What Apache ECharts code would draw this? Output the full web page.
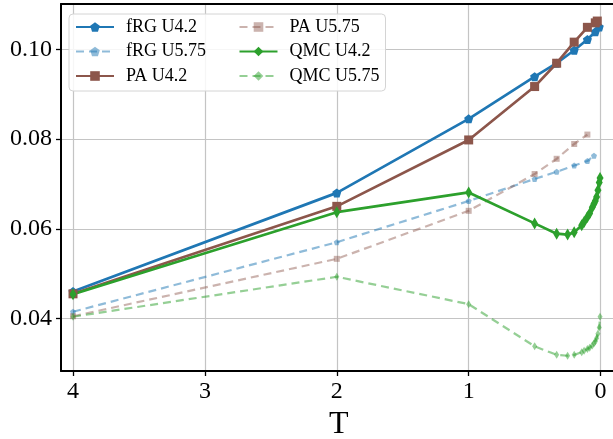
<!DOCTYPE html>
<html><head><meta charset="utf-8">
<script src="https://cdn.jsdelivr.net/npm/echarts@6/dist/echarts.min.js"></script>
<style>html,body{margin:0;padding:0;background:#fff;overflow:hidden}#c{width:613px;height:439px}</style>
</head><body><div id="c"></div>
<script>
// ---- data ----
const xTicks = [0, 1, 2, 3, 4];
const yTicks = [0.04, 0.06, 0.08, 0.10];
const seriesNames = ['fRG U4.2', 'fRG U5.75', 'PA U4.2', 'PA U5.75', 'QMC U4.2', 'QMC U5.75'];

const tFRG42 = [4, 2, 1, 0.5, 0.333, 0.2, 0.1, 0.04, 0.01];
const vFRG42 = [0.0460, 0.0680, 0.0845, 0.0939, 0.0969, 0.0998, 0.1022, 0.1039, 0.1050];

const tFRG575 = [4, 2, 1, 0.5, 0.333, 0.2, 0.1, 0.05];
const vFRG575 = [0.0415, 0.0570, 0.0662, 0.0711, 0.0727, 0.0741, 0.0751, 0.0763];

const tPA42 = [4, 2, 1, 0.5, 0.333, 0.2, 0.1, 0.04, 0.025];
const vPA42 = [0.0455, 0.0650, 0.0798, 0.0917, 0.0969, 0.1016, 0.1049, 0.1059, 0.1063];

const tPA575 = [4, 2, 1, 0.5, 0.333, 0.2, 0.1];
const vPA575 = [0.0405, 0.0533, 0.0640, 0.0722, 0.0756, 0.0789, 0.0810];

const tQMC = [4, 2, 1, 0.5, 0.333, 0.25, 0.2, 0.143, 0.125, 0.1, 0.083, 0.0625, 0.05, 0.04, 0.03, 0.02, 0.01, 0.004];
const vQMC42 = [0.0454, 0.0637, 0.0681, 0.0612, 0.0589, 0.0587, 0.0592, 0.0608, 0.0615, 0.0626, 0.0634, 0.0648, 0.0656, 0.0662, 0.0671, 0.0686, 0.0703, 0.0713];
const vQMC575 = [0.0404, 0.0493, 0.0432, 0.0338, 0.0319, 0.0317, 0.0319, 0.0325, 0.0328, 0.0332, 0.0335, 0.0340, 0.0345, 0.0349, 0.0356, 0.0366, 0.0380, 0.0404];

// ---- styles ----
const pentagon = 'path://M0,-1L0.951,-0.309L0.588,0.809L-0.588,0.809L-0.951,-0.309Z';
const square = 'rect';
const diamond = 'path://M0,-1L0.6,0L0,1L-0.6,0Z';
const FONT = 'Liberation Serif';

function pairs(t, v) { return t.map((x, i) => [x, v[i]]); }
function mk(name, t, v, color, dashed, symbol, size) {
  return {
    name: name, type: 'line', data: pairs(t, v), xAxisIndex: 0,
    symbol: symbol, symbolSize: size, showSymbol: true,
    lineStyle: { color: color, width: dashed ? 2.2 : 2.7, type: dashed ? [8, 5] : 'solid' },
    itemStyle: { color: color },
    emphasis: { disabled: true },
    animation: false
  };
}

const chart = echarts.init(document.getElementById('c'), null, { renderer: 'canvas' });
chart.setOption({
  backgroundColor: '#fff',
  animation: false,
  grid: { left: 61, top: 4, width: 555.4, height: 367, containLabel: false, outerBoundsMode: 'none' },
  xAxis: [{
    type: 'value', inverse: true, min: -0.12, max: 4.091,
    name: 'T', nameLocation: 'middle', nameGap: 28,
    nameTextStyle: { fontFamily: FONT, fontSize: 32, color: '#000' },
    axisLine: { show: true, onZero: false, lineStyle: { color: '#000', width: 2 } },
    axisTick: { show: true, customValues: xTicks, length: 5, inside: false, lineStyle: { color: '#000', width: 1.3 } },
    axisLabel: { customValues: xTicks, fontFamily: FONT, fontSize: 24, color: '#000', margin: 9, formatter: v => String(Math.round(v)) },
    splitLine: { show: true, lineStyle: { color: '#c4c4c4', width: 1.2 } }
  }, {
    type: 'value', position: 'top', inverse: true, min: -0.12, max: 4.091,
    axisLine: { show: true, onZero: false, lineStyle: { color: '#000', width: 2 } },
    axisTick: { show: false }, axisLabel: { show: false }, splitLine: { show: false }
  }],
  yAxis: {
    type: 'value', min: 0.0283, max: 0.1101, position: 'left',
    axisLine: { show: true, onZero: false, lineStyle: { color: '#000', width: 2 } },
    axisTick: { show: true, customValues: yTicks, length: 5, inside: false, lineStyle: { color: '#000', width: 1.3 } },
    axisLabel: { customValues: yTicks, fontFamily: FONT, fontSize: 24, color: '#000', margin: 9, formatter: v => v.toFixed(2) },
    splitLine: { show: true, lineStyle: { color: '#c4c4c4', width: 1.2 } }
  },
  legend: {
    orient: 'vertical', left: 69, top: 14, height: 70,
    itemGap: 6.5, itemWidth: 38, itemHeight: 12, padding: [4, 6, 6, 6],
    backgroundColor: 'rgba(255,255,255,0.85)', borderColor: '#d4d4d4', borderWidth: 1, borderRadius: 4,
    data: seriesNames,
    formatter: function (name) {
      const col = seriesNames.indexOf(name) < 3 ? 'a' : 'b';
      return '{s| }{' + col + '|' + name + '}';
    },
    textStyle: {
      fontFamily: FONT, fontSize: 18, color: '#000', lineHeight: 18,
      rich: {
        s: { width: 7, fontFamily: FONT, fontSize: 18, lineHeight: 18 },
        a: { width: 106, fontFamily: FONT, fontSize: 18, lineHeight: 18, color: '#000' },
        b: { width: 89, fontFamily: FONT, fontSize: 18, lineHeight: 18, color: '#000' }
      }
    }
  },
  series: [
    mk(seriesNames[0], tFRG42, vFRG42, '#1f77b4', false, pentagon, 9),
    mk(seriesNames[1], tFRG575, vFRG575, 'rgba(31,119,180,0.5)', true, pentagon, 6),
    mk(seriesNames[2], tPA42, vPA42, '#8c564b', false, square, 9),
    mk(seriesNames[3], tPA575, vPA575, 'rgba(140,86,75,0.45)', true, square, 6),
    mk(seriesNames[4], tQMC, vQMC42, '#2ca02c', false, diamond, [7, 12]),
    mk(seriesNames[5], tQMC, vQMC575, 'rgba(44,160,44,0.5)', true, diamond, [5, 8])
  ]
});
</script>
</body></html>
